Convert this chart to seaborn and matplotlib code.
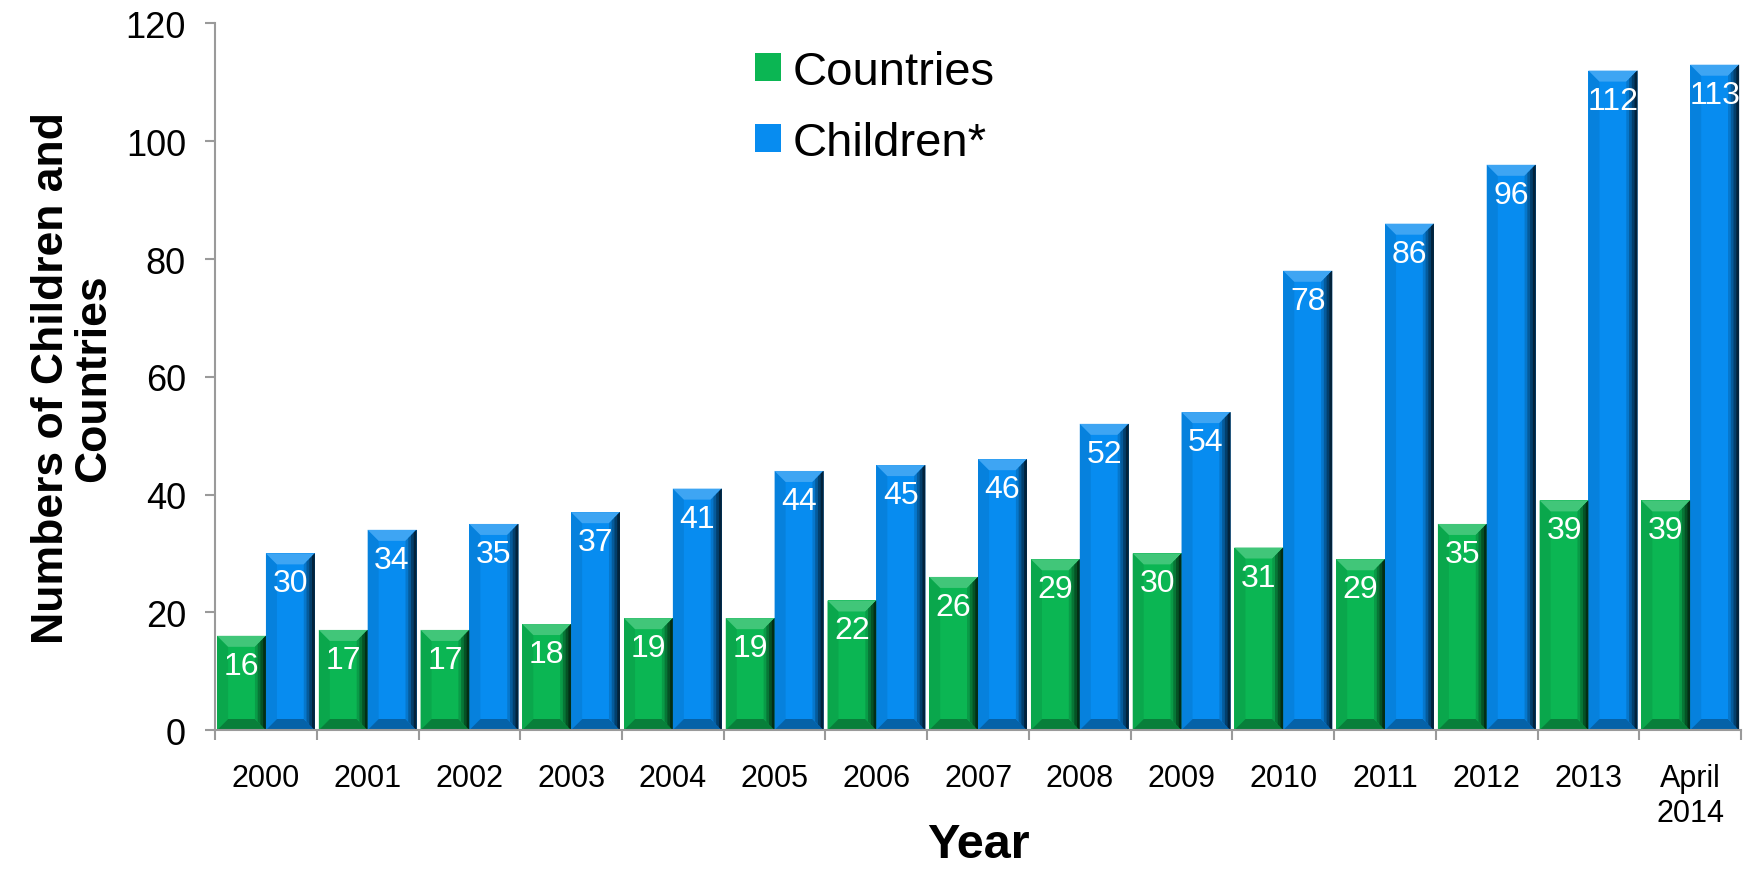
import matplotlib
matplotlib.use("Agg")
import matplotlib.pyplot as plt
from matplotlib.colors import to_rgb
from matplotlib.patches import Polygon
import seaborn as sns
import pandas as pd
import numpy as np

years = ["2000", "2001", "2002", "2003", "2004", "2005", "2006", "2007",
         "2008", "2009", "2010", "2011", "2012", "2013", "April\n2014"]
countries = [16, 17, 17, 18, 19, 19, 22, 26, 29, 30, 31, 29, 35, 39, 39]
children = [30, 34, 35, 37, 41, 44, 45, 46, 52, 54, 78, 86, 96, 112, 113]
series = ["Countries", "Children*"]
palette = {"Countries": "#0BB653", "Children*": "#078CF0"}

df = pd.DataFrame({
    "Year": years * 2,
    "Series": [series[0]] * len(years) + [series[1]] * len(years),
    "Value": countries + children,
})


def mix(c, other, t):
    return tuple((1 - t) * a + t * b for a, b in zip(to_rgb(c), other))


def bevel(ax, bar, base, px=11):
    # fake the PowerPoint bevel look with a few shaded polygons
    x0, w, h = bar.get_x(), bar.get_width(), bar.get_height()
    x1 = x0 + w
    d = px / (ax.bbox.width / np.diff(ax.get_xlim())[0])
    e = px / (ax.bbox.height / np.diff(ax.get_ylim())[0])
    white, black = (1, 1, 1), (0, 0, 0)
    polys = [
        ([(x0, 0), (x0, h), (x0 + d, h - e), (x0 + d, e)], mix(base, black, 0.08)),
        ([(x0, 0), (x1, 0), (x1 - d, e), (x0 + d, e)], mix(base, black, 0.3)),
        ([(x0, h), (x1, h), (x1 - d, h - e), (x0 + d, h - e)], mix(base, white, 0.22)),
    ]
    for f, t in zip([1.0, 0.75, 0.5, 0.25], [0.15, 0.35, 0.55, 0.75]):
        polys.append(([(x1 - d * f, e * f), (x1, 0), (x1, h), (x1 - d * f, h - e * f)],
                      mix(base, black, t)))
    for xy, col in polys:
        ax.add_patch(Polygon(xy, closed=True, facecolor=col, edgecolor="none", zorder=3))


sns.set_theme(style="white")
plt.rcParams["font.family"] = ["Liberation Sans", "DejaVu Sans"]
plt.rcParams["text.color"] = "black"
plt.rcParams["axes.labelcolor"] = "black"
plt.rcParams["xtick.color"] = "black"
plt.rcParams["ytick.color"] = "black"

fig = plt.figure(figsize=(17.5, 8.78), dpi=100)
ax = fig.add_axes([0.1229, 0.1674, 0.8720, 0.8047])

sns.barplot(data=df, x="Year", y="Value", hue="Series", palette=palette,
            width=0.96, saturation=1, errorbar=None, linewidth=0, ax=ax)

ax.set_xlim(-0.5, len(years) - 0.5)
ax.set_ylim(0, 120)
ax.set_yticks(np.arange(0, 121, 20))

for name, cont in zip(series, ax.containers):
    for bar in cont:
        bevel(ax, bar, palette[name])
        ax.annotate(f"{bar.get_height():.0f}", (bar.get_x() + bar.get_width() / 2, bar.get_height()),
                    xytext=(0, -30), textcoords="offset pixels", ha="center", va="center",
                    color="white", fontsize=23, zorder=5)

sns.despine(ax=ax)
for s in ["left", "bottom"]:
    ax.spines[s].set_color("#9a9a9a")
    ax.spines[s].set_linewidth(1.5)
    ax.spines[s].set_zorder(6)

ax.tick_params(axis="y", left=True, direction="out", length=7, width=1.5,
               color="#9a9a9a", labelcolor="black", labelsize=26, pad=14)
ax.set_xticks(np.arange(-0.5, len(years), 1), minor=True)
ax.tick_params(axis="x", which="major", bottom=False, labelcolor="black", labelsize=22, pad=18)
ax.tick_params(axis="x", which="minor", bottom=True, direction="out", length=7,
               width=1.5, color="#9a9a9a")

ax.set_ylabel("Numbers of Children and\nCountries", fontsize=32, fontweight="bold",
              color="black", linespacing=1.05)
ax.yaxis.set_label_coords(-0.066, 0.5)
ax.set_xlabel("Year", fontsize=35, fontweight="bold", color="black")
ax.xaxis.set_label_coords(0.5, -0.13)

handles, labels = ax.get_legend_handles_labels()
leg = ax.legend(handles, labels, loc="upper left", bbox_to_anchor=(0.4314, 0.942),
                bbox_transform=fig.transFigure, frameon=False, fontsize=34,
                handlelength=0.55, handleheight=0.55, handletextpad=0.25,
                labelspacing=0.57, borderaxespad=0, borderpad=0)
for t in leg.get_texts():
    t.set_color("black")

fig.savefig("out.png", dpi=100)
